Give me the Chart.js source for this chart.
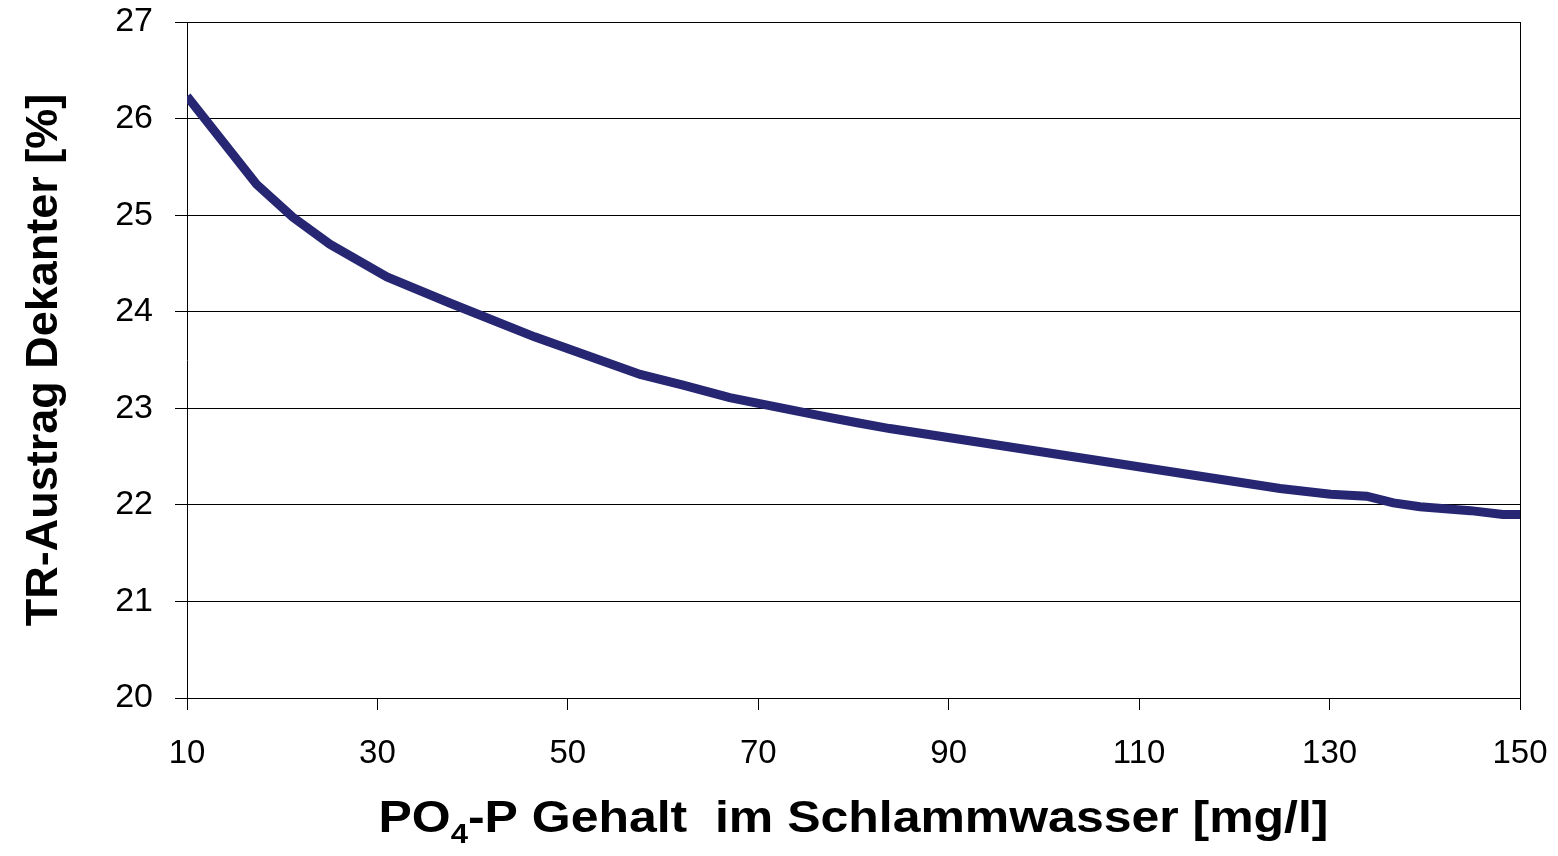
<!DOCTYPE html>
<html>
<head>
<meta charset="utf-8">
<script src="https://cdn.jsdelivr.net/npm/chart.js@4/dist/chart.umd.min.js"></script>
<style>
  html, body { margin: 0; padding: 0; background: #fff; }
</style>
</head>
<body>
<canvas id="chart" width="1558" height="856"></canvas>
<script>
// PO4-P Gehalt (mg/l) und TR-Austrag Dekanter (%)
const poGehalt = [10, 17.3, 21.1, 25.0, 31.0, 37.6, 46.5, 57.6, 62.1, 67.0, 76.2, 80.4, 83.8, 124.8, 130.1, 133.9, 136.7, 139.5, 144.8, 148.2, 150];
const trAustrag = [26.23, 25.32, 24.98, 24.70, 24.36, 24.09, 23.74, 23.35, 23.24, 23.11, 22.93, 22.85, 22.79, 22.17, 22.11, 22.09, 22.02, 21.98, 21.94, 21.90, 21.90];
const xTicks = [10, 30, 50, 70, 90, 110, 130, 150];
const yTicks = [20, 21, 22, 23, 24, 25, 26, 27];

const FONT = "'Liberation Sans', Arial, sans-serif";
Chart.defaults.font.family = FONT;
Chart.defaults.color = "#000";

// x-Titel mit tiefgestellter 4
const xTitlePlugin = {
  id: "xTitle",
  afterDraw(chart) {
    const c = chart.ctx;
    const parts = [
      { t: "PO", sub: false },
      { t: "4", sub: true },
      { t: "-P Gehalt  im Schlammwasser [mg/l]", sub: false }
    ];
    const big = "bold 45px " + FONT;
    const small = "bold 28px " + FONT;
    const sx = 1.11;
    c.save();
    let w = 0;
    parts.forEach(p => { c.font = p.sub ? small : big; w += c.measureText(p.t).width; });
    const cx = (chart.chartArea.left + chart.chartArea.right) / 2;
    c.translate(cx - (w * sx) / 2, 0);
    c.scale(sx, 1);
    let x = 0;
    c.textBaseline = "alphabetic";
    c.fillStyle = "#000";
    parts.forEach(p => {
      c.font = p.sub ? small : big;
      c.fillText(p.t, x, p.sub ? 843 : 832);
      x += c.measureText(p.t).width;
    });
    c.restore();
  }
};

const data = poGehalt.map((x, i) => ({ x: x, y: trAustrag[i] }));

new Chart(document.getElementById("chart"), {
  type: "scatter",
  data: {
    datasets: [{
      data: data,
      showLine: true,
      borderColor: "#262673",
      backgroundColor: "#262673",
      borderWidth: 9,
      pointRadius: 0,
      tension: 0
    }]
  },
  options: {
    responsive: false,
    animation: false,
    layout: { padding: { top: 22, right: 38, left: 0, bottom: 0 } },
    plugins: { legend: { display: false }, tooltip: { enabled: false } },
    scales: {
      x: {
        type: "linear",
        min: 10,
        max: 150,
        afterFit(scale) {
          scale.height = 158;
          scale.paddingLeft = 0;
          scale.paddingRight = 0;
        },
        afterBuildTicks(scale) { scale.ticks = xTicks.map(v => ({ value: v })); },
        ticks: { stepSize: 20, font: { size: 33 }, padding: 24, maxRotation: 0, color: "#000" },
        grid: {
          drawOnChartArea: true,
          color: ctx => (ctx.tick && ctx.tick.value === 150 ? "#000" : "rgba(0,0,0,0)"),
          tickColor: "#000",
          tickLength: 12,
          lineWidth: 1
        },
        border: { display: true, color: "#000", width: 1 }
      },
      y: {
        min: 20,
        max: 27,
        afterFit(scale) {
          scale.width = 187;
          scale.paddingTop = 0;
          scale.paddingBottom = 0;
        },
        afterBuildTicks(scale) { scale.ticks = yTicks.map(v => ({ value: v })); },
        ticks: { stepSize: 1, font: { size: 34 }, padding: 22, color: "#000" },
        grid: { color: "#000", tickColor: "#000", tickLength: 12, lineWidth: 1 },
        border: { display: true, color: "#000", width: 1 },
        title: {
          display: true,
          text: "TR-Austrag Dekanter [%]",
          font: { size: 45, weight: "bold" },
          color: "#000",
          padding: { top: 18, bottom: 0 }
        }
      }
    }
  },
  plugins: [xTitlePlugin]
});
</script>
</body>
</html>
